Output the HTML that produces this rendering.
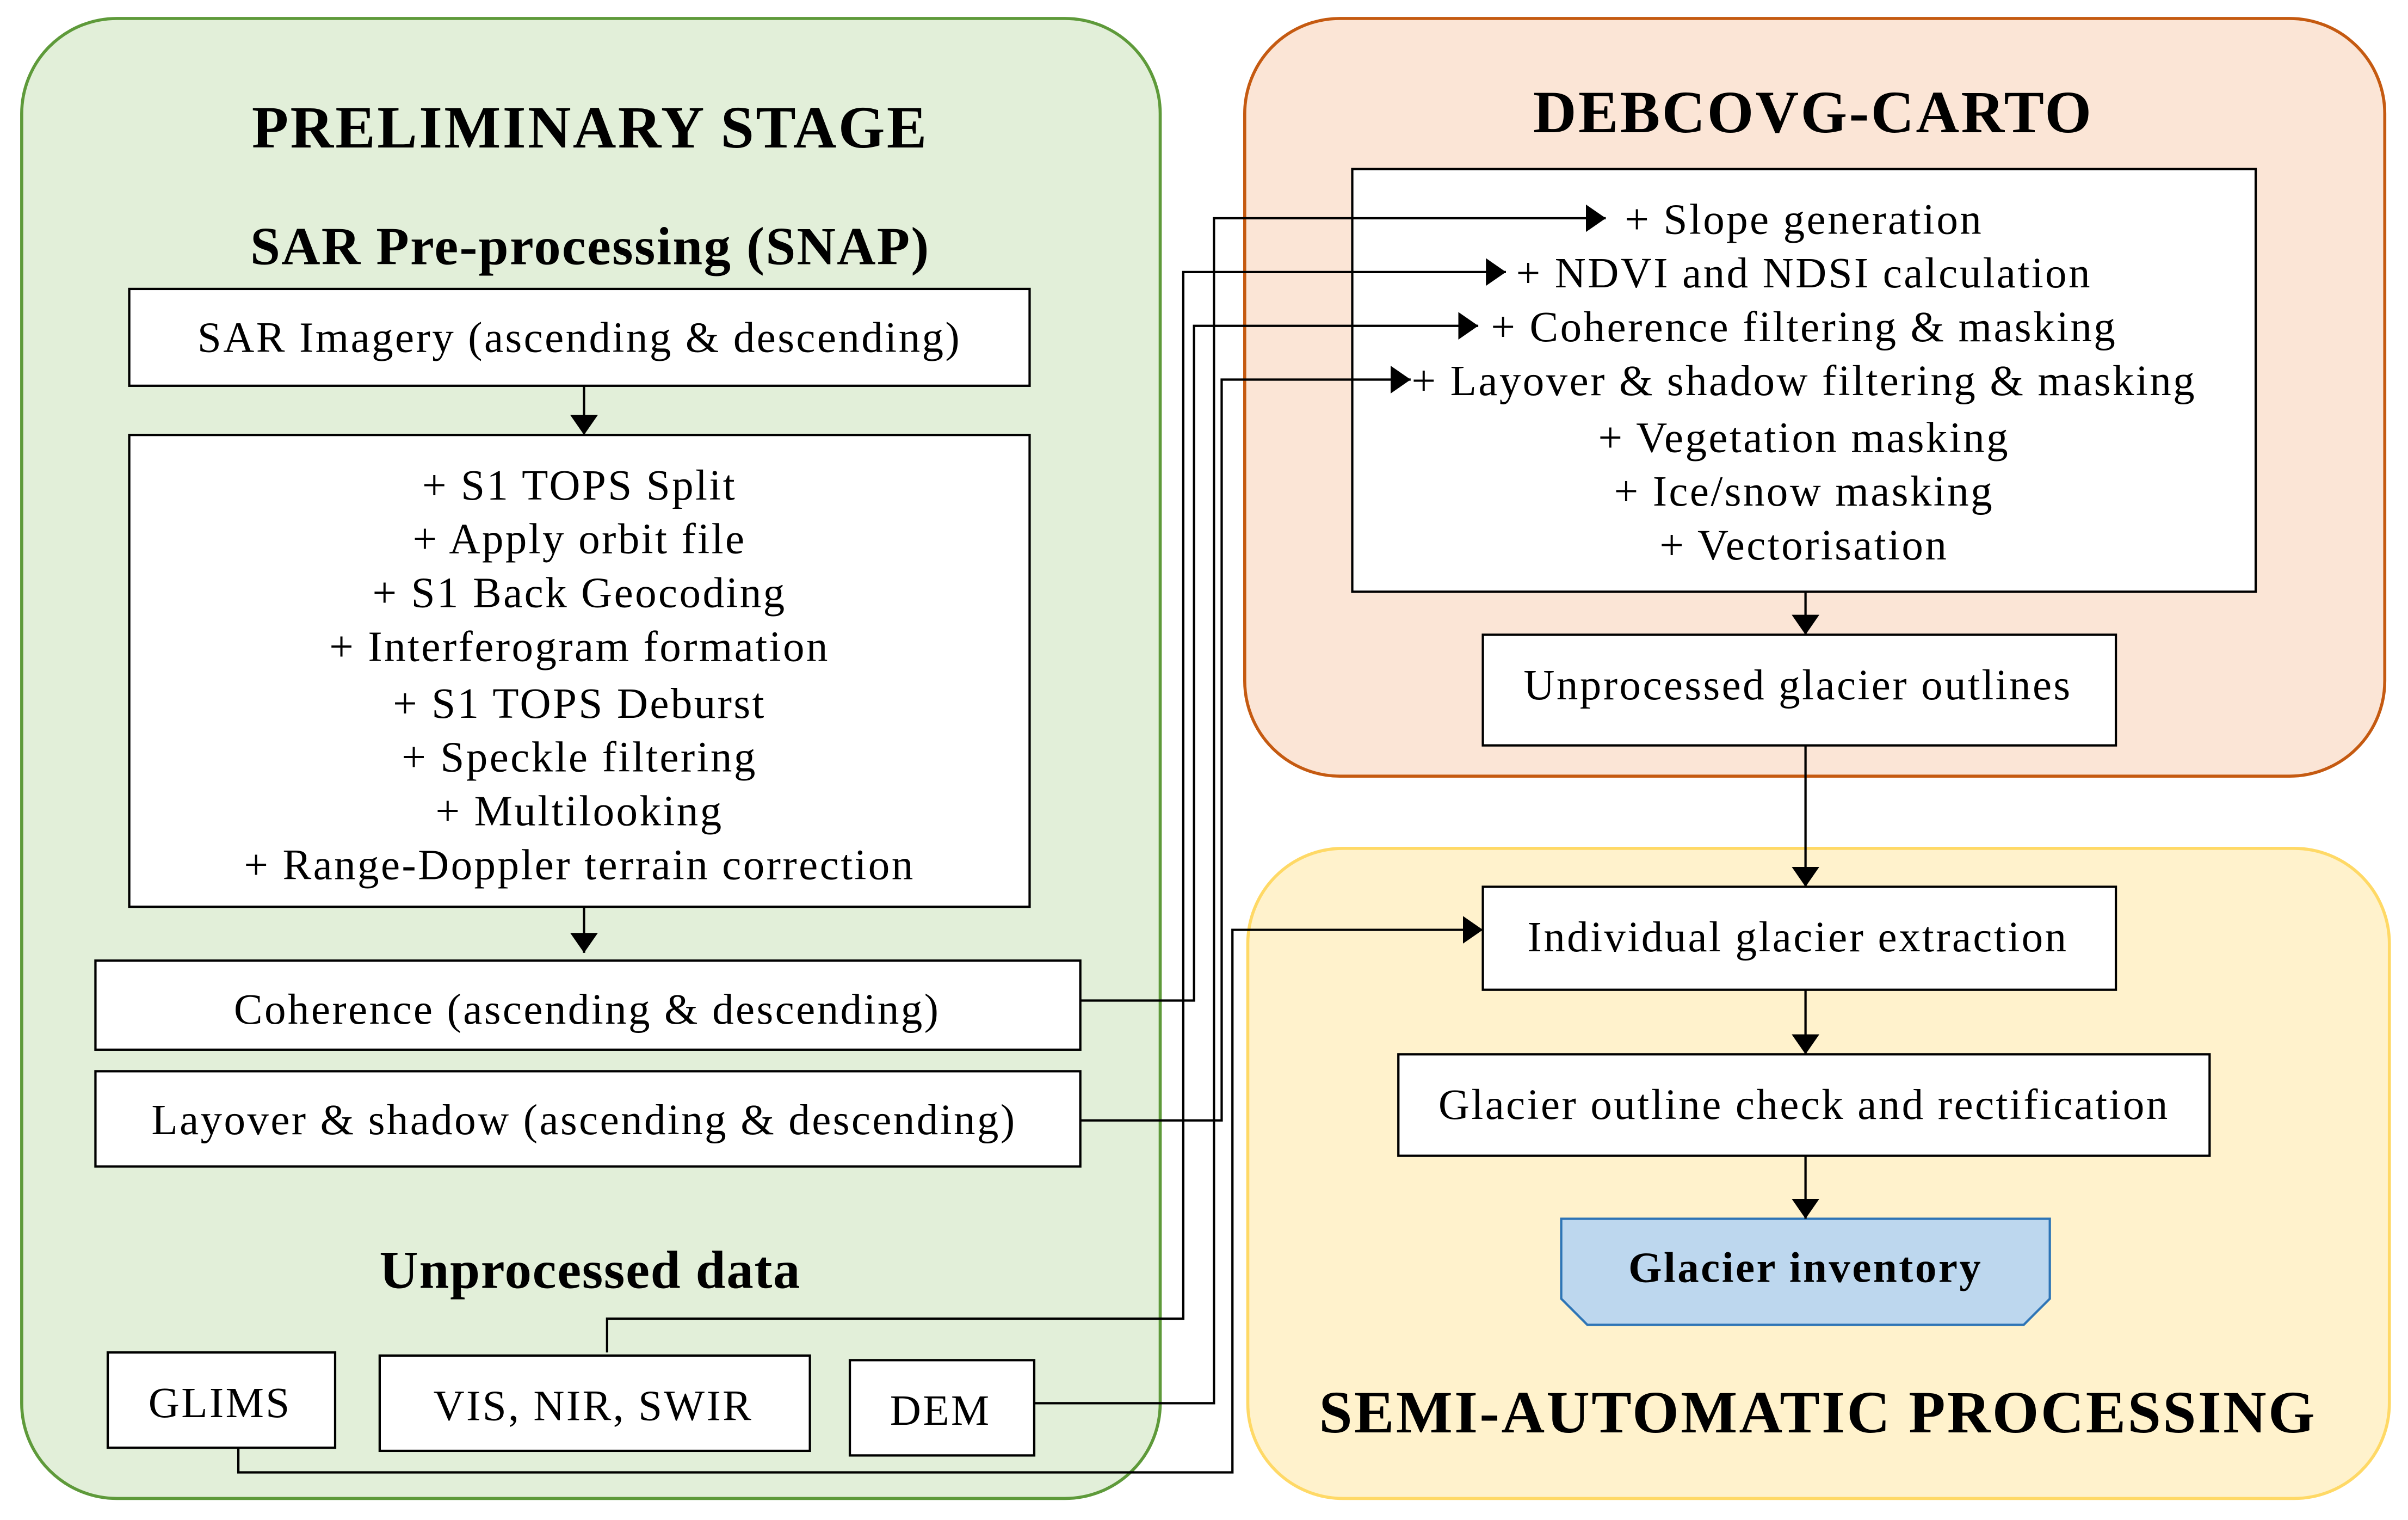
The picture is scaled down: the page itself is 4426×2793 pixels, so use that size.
<!DOCTYPE html>
<html><head><style>html,body{margin:0;padding:0;background:#fff}svg{display:block}</style></head>
<body>
<svg width="4426" height="2793" viewBox="0 0 1567 989" xmlns="http://www.w3.org/2000/svg" font-family="'Liberation Serif', serif">
<defs><marker id="a" markerWidth="13" markerHeight="18" refX="13" refY="9" orient="auto" markerUnits="userSpaceOnUse"><path d="M0,0 L13,9 L0,18 z" fill="#000"/></marker></defs>
<rect x="14" y="12" width="741" height="963" rx="62" fill="#e2efd9" stroke="#5e9a3a" stroke-width="2"/>
<rect x="810" y="12" width="742" height="493" rx="62" fill="#fbe5d6" stroke="#c55a11" stroke-width="2"/>
<rect x="812" y="552" width="743" height="423" rx="62" fill="#fff2cc" stroke="#ffd966" stroke-width="2"/>
<g font-weight="bold" text-anchor="middle" fill="#000">
<text x="384" y="96" font-size="39" letter-spacing="1.2">PRELIMINARY STAGE</text>
<text x="384" y="172" font-size="35" letter-spacing="0.8">SAR Pre-processing (SNAP)</text>
<text x="384" y="838" font-size="35" letter-spacing="0.6">Unprocessed data</text>
<text x="1180" y="86" font-size="39" letter-spacing="1.2">DEBCOVG-CARTO</text>
<text x="1183" y="932" font-size="39" letter-spacing="1.2">SEMI-AUTOMATIC PROCESSING</text>
</g>
<g fill="#fff" stroke="#000" stroke-width="1.5">
<rect x="84" y="188" width="586" height="63"/>
<rect x="84" y="283" width="586" height="307"/>
<rect x="62" y="625" width="641" height="58"/>
<rect x="62" y="697" width="641" height="62"/>
<rect x="70" y="880" width="148" height="62"/>
<rect x="247" y="882" width="280" height="62"/>
<rect x="553" y="885" width="120" height="62"/>
<rect x="880" y="110" width="588" height="275"/>
<rect x="965" y="413" width="412" height="72"/>
<rect x="965" y="577" width="412" height="67"/>
<rect x="910" y="686" width="528" height="66"/>
</g>
<polygon points="1016,793 1334,793 1334,845 1317,862 1033,862 1016,845" fill="#bdd7ee" stroke="#2e75b6" stroke-width="1.5"/>
<g font-size="28" letter-spacing="1.2" text-anchor="middle" fill="#000">
<text x="377" y="229">SAR Imagery (ascending &amp; descending)</text>
<text x="377" y="325">+ S1 TOPS Split</text>
<text x="377" y="360">+ Apply orbit file</text>
<text x="377" y="395">+ S1 Back Geocoding</text>
<text x="377" y="430">+ Interferogram formation</text>
<text x="377" y="467">+ S1 TOPS Deburst</text>
<text x="377" y="502">+ Speckle filtering</text>
<text x="377" y="537">+ Multilooking</text>
<text x="377" y="572">+ Range-Doppler terrain correction</text>
<text x="382" y="666">Coherence (ascending &amp; descending)</text>
<text x="380" y="738">Layover &amp; shadow (ascending &amp; descending)</text>
<text x="143" y="922">GLIMS</text>
<text x="386" y="924">VIS, NIR, SWIR</text>
<text x="612" y="927">DEM</text>
<text x="1174" y="152">+ Slope generation</text>
<text x="1174" y="187">+ NDVI and NDSI calculation</text>
<text x="1174" y="222">+ Coherence filtering &amp; masking</text>
<text x="1174" y="257">+ Layover &amp; shadow filtering &amp; masking</text>
<text x="1174" y="294">+ Vegetation masking</text>
<text x="1174" y="329">+ Ice/snow masking</text>
<text x="1174" y="364">+ Vectorisation</text>
<text x="1170" y="455">Unprocessed glacier outlines</text>
<text x="1170" y="619">Individual glacier extraction</text>
<text x="1174" y="728">Glacier outline check and rectification</text>
<text x="1175" y="834" font-weight="bold">Glacier inventory</text>
</g>
<g fill="none" stroke="#000" stroke-width="1.5" marker-end="url(#a)">
<path d="M380,251 V283"/>
<path d="M380,590 V620"/>
<path d="M1175,385 V413"/>
<path d="M1175,485 V577"/>
<path d="M1175,644 V686"/>
<path d="M1175,752 V793"/>
<path d="M673,913 H790 V142 H1045"/>
<path d="M395,880 V858 H770 V177 H980"/>
<path d="M703,651 H777 V212 H962"/>
<path d="M703,729 H795 V247 H918"/>
<path d="M155,942 V958 H802 V605 H965"/>
</g>
</svg>
</body></html>
